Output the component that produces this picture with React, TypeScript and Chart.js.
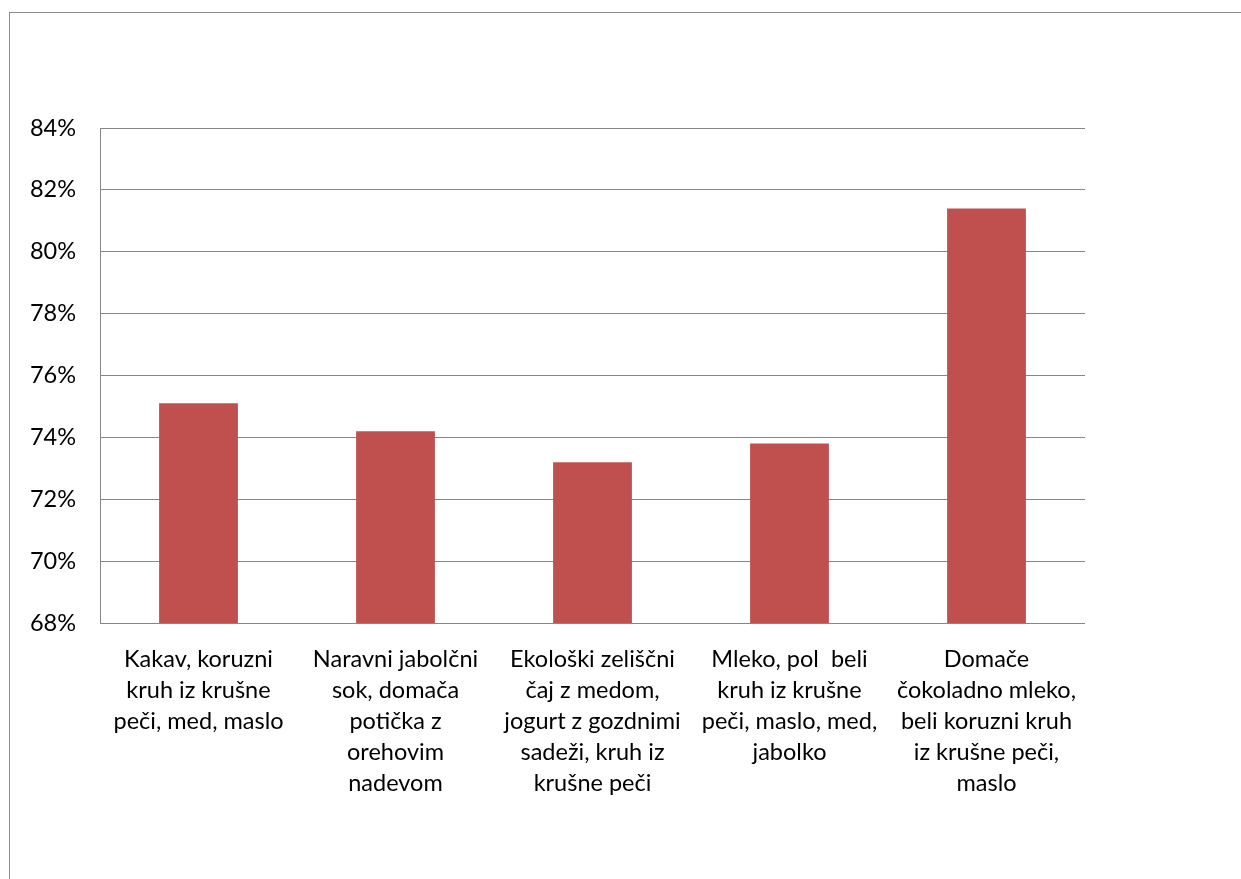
import React, { useEffect, useRef } from "react";
import { Chart, registerables } from "chart.js";

Chart.register(...registerables);

const categories: string[][] = [
  ["Kakav, koruzni", "kruh iz krušne", "peči, med, maslo"],
  ["Naravni jabolčni", "sok, domača", "potička z", "orehovim", "nadevom"],
  ["Ekološki zeliščni", "čaj z medom,", "jogurt z gozdnimi", "sadeži, kruh iz", "krušne peči"],
  ["Mleko, pol  beli", "kruh iz krušne", "peči, maslo, med,", "jabolko"],
  ["Domače", "čokoladno mleko,", "beli koruzni kruh", "iz krušne peči,", "maslo"],
];
const values: number[] = [75.1, 74.2, 73.2, 73.8, 81.4];
const yMin = 68;
const yMax = 84;
const yStep = 2;

const FONT = "Lato, 'DejaVu Sans', sans-serif";

export default function App() {
  const ref = useRef<HTMLCanvasElement>(null);
  useEffect(() => {
    let chart: Chart | null = null;
    let cancelled = false;
    const make = () => {
      if (cancelled || !ref.current) return;
      chart = new Chart(ref.current, {
        type: "bar",
        data: {
          labels: categories,
          datasets: [
            {
              data: values,
              backgroundColor: "#C0504D",
              borderWidth: 0,
              categoryPercentage: 1,
              barPercentage: 0.4,
            },
          ],
        },
        options: {
          animation: false,
          responsive: false,
          devicePixelRatio: 1,
          layout: { padding: { top: 128, right: 156, left: 0, bottom: 0 } },
          plugins: { legend: { display: false }, tooltip: { enabled: false } },
          scales: {
            x: {
              grid: { display: false, drawTicks: false },
              border: { display: false },
              ticks: {
                color: "#000",
                font: { family: FONT, size: 23.5, lineHeight: "31px" },
                padding: 21,
                maxRotation: 0,
                autoSkip: false,
              },
              afterFit: (s: any) => {
                s.height = 256;
              },
            },
            y: {
              min: yMin,
              max: yMax,
              grid: { color: "#878787", lineWidth: 1, drawTicks: false },
              border: { display: true, color: "#878787", width: 1 },
              ticks: {
                stepSize: yStep,
                color: "#000",
                font: { family: FONT, size: 23.5 },
                padding: 24,
                callback: (v: any) => v + "%",
              },
              afterFit: (s: any) => {
                s.width = 100;
              },
            },
          },
        },
      });
    };
    const p = (document as any).fonts ? (document as any).fonts.load("23px Lato") : Promise.resolve();
    p.then(make, make);
    return () => {
      cancelled = true;
      if (chart) chart.destroy();
    };
  }, []);
  return (
    <div style={{ position: "fixed", left: 0, top: 0, width: 1241, height: 879, overflow: "hidden", background: "#fff" }}>
      <div
        style={{
          position: "absolute",
          left: 9,
          top: 12,
          width: 1400,
          height: 1000,
          borderLeft: "1px solid #8c8c8c",
          borderTop: "1px solid #8c8c8c",
        }}
      />
      <canvas ref={ref} width={1241} height={879} style={{ position: "absolute", left: 0, top: 0 }} />
    </div>
  );
}
